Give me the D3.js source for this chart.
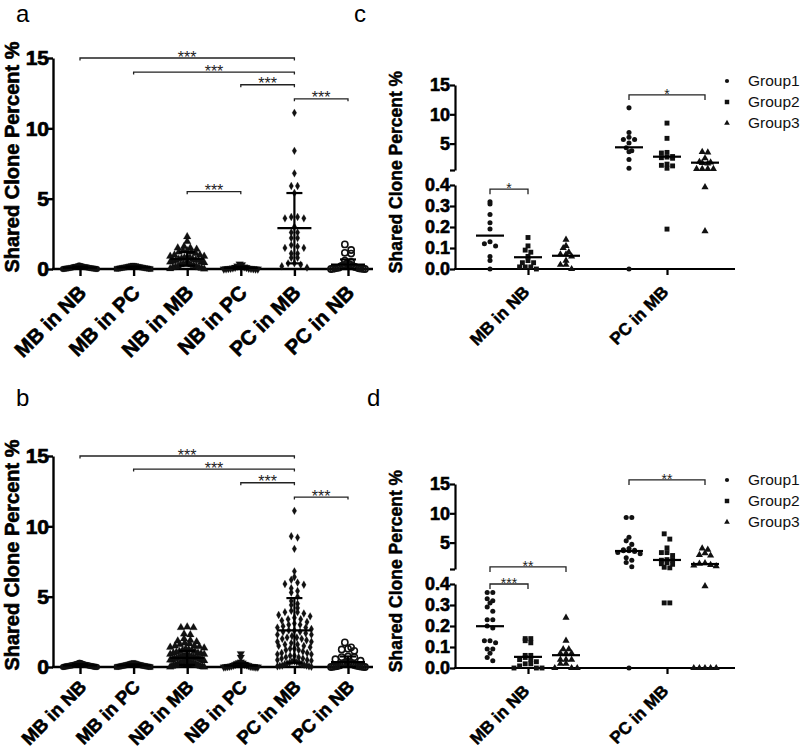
<!DOCTYPE html>
<html><head><meta charset="utf-8">
<script src="https://d3js.org/d3.v7.min.js"></script>
<style>
body{margin:0;background:#fff;}
svg{display:block;}
</style></head><body>
<svg id="chart" width="800" height="753"></svg>
<script>
// ---------------- DATA ----------------
const categoriesAB = ["MB in NB", "MB in PC", "NB in MB", "NB in PC", "PC in MB", "PC in NB"];
const yTicksAB = [0, 5, 10, 15];

// panel a
const aMBinNB = [0.25, 0.22, 0.2, 0.18, 0.16, 0.15, 0.14, 0.12, 0.1, 0.1, 0.08, 0.07, 0.06, 0.05, 0.04, 0.03, 0.02, 0.01, 0.0, 0.0];
const aMBinPC = [0.24, 0.22, 0.21, 0.2, 0.18, 0.16, 0.15, 0.14, 0.12, 0.11, 0.1, 0.09, 0.08, 0.06, 0.05, 0.04, 0.03, 0.02, 0.01, 0.0];
const aNBinMB = [2.3, 1.95, 1.6, 1.5, 1.5, 1.4, 1.3, 1.3, 1.2, 1.2, 1.1, 1.0, 1.0, 0.9, 0.9, 0.85, 0.8, 0.8, 0.75, 0.7, 0.7, 0.65, 0.6, 0.6, 0.55, 0.5, 0.5, 0.45, 0.4, 0.4, 0.35, 0.3, 0.3, 0.25, 0.2, 0.2, 0.15, 0.1, 0.1, 0.05, 0.02, 0.0];
const aNBinPC = [0.35, 0.3, 0.22, 0.15, 0.12, 0.1, 0.08, 0.06, 0.05, 0.04, 0.03, 0.02, 0.01, 0.0, 0.0, 0.0];
const aPCinMB = [11.1, 8.4, 6.8, 5.9, 5.9, 5.4, 3.7, 3.7, 3.6, 3.6, 3.0, 2.6, 2.6, 2.2, 2.2, 1.7, 1.6, 1.5, 1.5, 1.1, 1.1, 0.8, 0.8, 0.4, 0.4, 0.3, 0.2, 0.1];
const aPCinNB = [1.75, 1.35, 1.15, 1.1, 0.6, 0.5, 0.4, 0.35, 0.3, 0.3, 0.25, 0.2, 0.2, 0.15, 0.1, 0.1, 0.08, 0.05, 0.05, 0.03, 0.02, 0.01, 0.0, 0.0];
const meansA = [0.1, 0.11, 0.72, 0.08, 2.9, 0.32];
const sdsA = [0.07, 0.07, 0.48, 0.09, 2.5, 0.36];
const sigA = [
  { from: "MB in NB", to: "PC in MB", level: 15.0, label: "***" },
  { from: "MB in PC", to: "PC in MB", level: 14.0, label: "***" },
  { from: "NB in PC", to: "PC in MB", level: 13.1, label: "***" },
  { from: "PC in MB", to: "PC in NB", level: 12.1, label: "***" },
  { from: "NB in MB", to: "NB in PC", level: 5.5, label: "***" }
];

// panel b
const bMBinNB = [0.3, 0.28, 0.26, 0.25, 0.22, 0.21, 0.2, 0.18, 0.17, 0.16, 0.15, 0.14, 0.13, 0.12, 0.11, 0.1, 0.1, 0.09, 0.08, 0.07, 0.06, 0.05, 0.05, 0.04, 0.03, 0.02, 0.02, 0.01, 0.0, 0.0];
const bMBinPC = [0.28, 0.26, 0.25, 0.24, 0.22, 0.2, 0.19, 0.18, 0.16, 0.15, 0.14, 0.13, 0.12, 0.11, 0.1, 0.09, 0.08, 0.07, 0.06, 0.05, 0.04, 0.03, 0.03, 0.02, 0.01, 0.0, 0.0];
const bNBinMB = [2.85, 2.8, 2.8, 2.35, 2.3, 2.0, 1.9, 1.85, 1.8, 1.7, 1.65, 1.6, 1.5, 1.5, 1.45, 1.4, 1.35, 1.3, 1.25, 1.2, 1.2, 1.1, 1.1, 1.05, 1.0, 1.0, 0.95, 0.9, 0.9, 0.85, 0.8, 0.8, 0.8, 0.75, 0.7, 0.7, 0.7, 0.65, 0.6, 0.6, 0.6, 0.55, 0.5, 0.5, 0.5, 0.45, 0.4, 0.4, 0.4, 0.35, 0.3, 0.3, 0.3, 0.25, 0.2, 0.2, 0.2, 0.15, 0.1, 0.1, 0.1, 0.05, 0.05, 0.02, 0.0, 0.0];
const bNBinPC = [0.95, 0.7, 0.35, 0.3, 0.28, 0.25, 0.2, 0.18, 0.15, 0.12, 0.1, 0.08, 0.06, 0.05, 0.04, 0.03, 0.02, 0.01, 0.0, 0.0, 0.0];
const bPCinMB = [11.1, 9.3, 9.2, 8.4, 6.8, 6.4, 6.2, 6.0, 5.9, 5.85, 5.6, 5.4, 5.3, 5.0, 4.7, 4.5, 4.4, 4.2, 4.0, 3.9, 3.9, 3.8, 3.7, 3.6, 3.5, 3.4, 3.4, 3.3, 3.2, 3.1, 3.0, 3.0, 2.9, 2.8, 2.8, 2.7, 2.6, 2.6, 2.5, 2.5, 2.4, 2.3, 2.3, 2.2, 2.1, 2.1, 2.0, 2.0, 1.9, 1.8, 1.8, 1.7, 1.6, 1.6, 1.5, 1.5, 1.4, 1.3, 1.3, 1.2, 1.2, 1.1, 1.0, 1.0, 0.9, 0.9, 0.8, 0.8, 0.7, 0.7, 0.6, 0.6, 0.5, 0.5, 0.45, 0.4, 0.4, 0.35, 0.3, 0.3, 0.25, 0.2, 0.2, 0.15, 0.1, 0.1, 0.08, 0.05, 0.05, 0.02];
const bPCinNB = [1.75, 1.4, 1.3, 1.25, 1.15, 0.75, 0.7, 0.7, 0.55, 0.45, 0.4, 0.35, 0.3, 0.3, 0.25, 0.2, 0.2, 0.15, 0.12, 0.1, 0.1, 0.08, 0.06, 0.05, 0.04, 0.03, 0.02, 0.01, 0.0, 0.0];
const meansB = [0.12, 0.11, 0.65, 0.1, 2.6, 0.35];
const sdsB = [0.08, 0.08, 0.5, 0.15, 2.3, 0.4];
const sigB = [
  { from: "MB in NB", to: "PC in MB", level: 15.0, label: "***" },
  { from: "MB in PC", to: "PC in MB", level: 14.07, label: "***" },
  { from: "NB in PC", to: "PC in MB", level: 13.1, label: "***" },
  { from: "PC in MB", to: "PC in NB", level: 12.08, label: "***" }
];

// panels c and d
const categoriesCD = ["MB in NB", "PC in MB"];
const groupsCD = ["Group1", "Group2", "Group3"];
const upperTicksCD = [5, 10, 15];
const lowerTicksCD = [0, 0.1, 0.2, 0.3, 0.4];

const cMBinNB_G1 = [0.32, 0.31, 0.26, 0.22, 0.19, 0.13, 0.12, 0.11, 0.06, 0.04, 0.0];
const cMBinNB_G2 = [0.15, 0.11, 0.09, 0.08, 0.06, 0.04, 0.03, 0.03, 0.01, 0.01, 0.01, 0.0];
const cMBinNB_G3 = [0.14, 0.11, 0.10, 0.08, 0.07, 0.07, 0.06, 0.04, 0.02, 0.02, 0.0];
const cPCinMB_G1 = [11.1, 6.9, 6.1, 5.7, 5.7, 5.1, 4.3, 3.8, 3.6, 2.3, 0.8, 0.0];
const cPCinMB_G2 = [8.5, 5.9, 3.5, 3.4, 2.8, 2.7, 2.6, 2.5, 1.5, 1.3, 1.2, 0.8, 0.19];
const cPCinMB_G3 = [3.6, 3.5, 2.5, 1.9, 1.8, 1.7, 1.6, 0.7, 0.7, 0.7, 0.7, 0.39, 0.18];
const mediansC = [[0.159, 0.056, 0.063], [4.37, 2.77, 1.75]];
const sigC = [
  { cat: "MB in NB", g1: 0, g2: 1, level: 0.38, label: "*" },
  { cat: "PC in MB", g1: 0, g2: 2, level: 13.3, label: "*" }
];

const dMBinNB_G1 = [0.36, 0.36, 0.33, 0.32, 0.31, 0.29, 0.27, 0.23, 0.23, 0.2, 0.19, 0.13, 0.13, 0.12, 0.09, 0.09, 0.07, 0.05, 0.035];
const dMBinNB_G2 = [0.14, 0.14, 0.13, 0.12, 0.06, 0.06, 0.05, 0.04, 0.04, 0.03, 0.02, 0.02, 0.01, 0.0, 0.0, 0.0];
const dMBinNB_G3 = [0.24, 0.13, 0.09, 0.09, 0.07, 0.07, 0.07, 0.04, 0.04, 0.04, 0.02, 0.02, 0.0, 0.0, 0.0];
const dPCinMB_G1 = [9.3, 9.3, 5.9, 5.3, 4.7, 4.0, 3.8, 3.7, 3.6, 3.6, 3.5, 3.3, 3.1, 2.4, 2.0, 1.6, 0.9, 0.0];
const dPCinMB_G2 = [6.5, 5.6, 4.1, 3.3, 3.3, 2.8, 2.1, 2.0, 2.0, 1.6, 1.4, 1.3, 0.8, 0.7, 0.31, 0.31];
const dPCinMB_G3 = [4.0, 3.8, 3.2, 2.9, 2.8, 1.5, 1.4, 1.2, 1.1, 1.0, 0.39, 0.0, 0.0, 0.0, 0.0, 0.0];
const mediansD = [[0.199, 0.053, 0.061], [3.57, 2.04, 1.35]];
const sigD = [
  { cat: "MB in NB", g1: 0, g2: 2, level: 0.85, label: "**" },
  { cat: "MB in NB", g1: 0, g2: 1, level: 0.4, label: "***" },
  { cat: "PC in MB", g1: 0, g2: 2, level: 15.7, label: "**" }
];

// ---------------- DRAWING ----------------
const FONT = '"Liberation Sans", Arial, Helvetica, sans-serif';
const svg = d3.select("#chart");

function swarm(values, yPix, cx, d, maxHalf, base) {
  const pts = values.map(v => ({ v, y: yPix(v) }));
  const bins = d3.groups(pts, p => Math.floor((base - p.y) / d + 1e-6));
  const out = [];
  bins.forEach(([, arr]) => {
    arr.sort((a, b) => b.v - a.v);
    const n = arr.length;
    const sp = n > 1 ? Math.min(d, (2 * maxHalf) / (n - 1)) : 0;
    const slots = d3.range(n).map(i => (i - (n - 1) / 2) * sp)
      .sort((a, b) => Math.abs(a) - Math.abs(b) || a - b);
    arr.forEach((p, i) => out.push({ v: p.v, y: p.y, x: cx + slots[i] }));
  });
  return out;
}

function heavy(sel, w) {
  return sel.attr("stroke", "#000").attr("stroke-width", w).attr("paint-order", "stroke");
}

function styleAxis(sel, fs, sw, tw) {
  sel.attr("font-family", FONT).attr("font-size", fs).attr("font-weight", "bold");
  sel.selectAll(".domain").attr("stroke", "#000").attr("stroke-width", sw);
  sel.selectAll(".tick line").attr("stroke", "#000").attr("stroke-width", sw);
  heavy(sel.selectAll(".tick text").attr("fill", "#000"), tw);
}

function drawAB(top, letter, letterY, series, means, sds, sigs, labelSize, labelDy) {
  const g = svg.append("g");
  const y = d3.scaleLinear().domain([0, 15]).range([top + 211, top]);
  const x = d3.scalePoint().domain(categoriesAB).range([80, 348]);
  const y0 = y(0);

  // y axis
  const ya = g.append("g").attr("transform", "translate(53,0)")
    .call(d3.axisLeft(y).tickValues(yTicksAB).tickSize(5).tickSizeOuter(0).tickPadding(-1));
  styleAxis(ya, 21, 2.4, 0.7);

  // x axis
  const xa = g.append("g").attr("transform", `translate(0,${y0})`)
    .call(d3.axisBottom(x).tickSize(7).tickSizeOuter(0));
  styleAxis(xa, labelSize, 2.4, 0.6);
  xa.select(".domain").remove();
  xa.selectAll(".tick text").attr("text-anchor", "end").attr("x", 0).attr("y", 0).attr("dy", 0)
    .attr("transform", `translate(7,${labelDy}) rotate(-45)`);
  g.append("line").attr("x1", 52).attr("x2", 373).attr("y1", y0).attr("y2", y0)
    .attr("stroke", "#000").attr("stroke-width", 2.4);

  // points
  const types = [d3.symbolCircle, d3.symbolSquare, d3.symbolTriangle, d3.symbolTriangle, d3.symbolDiamond, d3.symbolCircle];
  const sizes = [28, 28, 26, 26, 18, 30];
  categoriesAB.forEach((c, i) => {
    const pts = swarm(series[i], y, x(c), 6.3, 17, y0);
    const sym = d3.symbol().type(types[i]).size(sizes[i]);
    g.append("g").selectAll("path").data(pts).join("path")
      .attr("d", sym)
      .attr("transform", p => `translate(${p.x},${p.y})` + (i === 3 ? " rotate(180)" : ""))
      .attr("fill", i === 5 ? "none" : "#111")
      .attr("stroke", "#111")
      .attr("stroke-width", i === 5 ? 1.6 : 0.2);
  });

  // mean +/- SD
  categoriesAB.forEach((c, i) => {
    const cx = x(c), m = means[i], s = sds[i];
    const lo = y(Math.max(0, m - s)), hi = y(m + s);
    const ln = (x1, y1, x2, y2) => g.append("line").attr("x1", x1).attr("y1", y1).attr("x2", x2).attr("y2", y2)
      .attr("stroke", "#000").attr("stroke-width", 2.2);
    ln(cx, lo, cx, hi);
    ln(cx - 8, hi, cx + 8, hi);
    ln(cx - 8, lo, cx + 8, lo);
    ln(cx - 17, y(m), cx + 17, y(m));
  });

  // significance brackets
  sigs.forEach(s => {
    const x1 = x(s.from), x2 = x(s.to), yy = y(s.level);
    g.append("path").attr("d", `M${x1},${yy + 2.5}V${yy}H${x2}V${yy + 2.5}`)
      .attr("fill", "none").attr("stroke", "#222").attr("stroke-width", 1.3);
    g.append("text").attr("x", (x1 + x2) / 2).attr("y", yy + 4.7).attr("text-anchor", "middle")
      .attr("font-family", FONT).attr("font-size", 16).attr("fill", "#222").text(s.label);
  });

  // y title
  heavy(g.append("text").attr("transform", `translate(19,${top + 99}) rotate(-90)`)
    .attr("text-anchor", "middle").attr("font-family", FONT).attr("font-weight", "bold")
    .attr("font-size", 20).attr("fill", "#000").text("Shared Clone Percent %"), 0.6);

  // panel letter
  g.append("text").attr("x", 16).attr("y", letterY).attr("font-family", FONT)
    .attr("font-size", 24).attr("fill", "#000").text(letter);
}

function drawCD(dy, letter, letterX, letterY, series, medians, sigs) {
  const g = svg.append("g");
  const lower = d3.scaleLinear().domain([0, 0.4]).range([269 + dy, 185 + dy]);
  const upper = d3.scaleLinear().domain([0.5, 15]).range([170 + dy, 85 + dy]);
  const yPix = v => (v <= 0.4 ? lower(v) : upper(v));
  const x = d3.scalePoint().domain(categoriesCD).range([528, 667]);
  const gOff = [-38, 0, 38];
  const y0 = lower(0);

  // y axis: two segments
  const yu = g.append("g").attr("transform", "translate(455,0)")
    .call(d3.axisLeft(upper).tickValues([0.5].concat(upperTicksCD)).tickSize(5).tickSizeOuter(0).tickPadding(0)
      .tickFormat(d => (d === 0.5 ? "" : d)));
  styleAxis(yu, 18, 2.2, 0.6);
  const yl = g.append("g").attr("transform", "translate(455,0)")
    .call(d3.axisLeft(lower).tickValues(lowerTicksCD).tickSize(5).tickSizeOuter(0).tickPadding(0)
      .tickFormat(d3.format(".1f")));
  styleAxis(yl, 18, 2.2, 0.6);

  // x axis
  const xa = g.append("g").attr("transform", `translate(0,${y0})`)
    .call(d3.axisBottom(x).tickSize(6).tickSizeOuter(0));
  styleAxis(xa, 17, 2.2, 0.5);
  xa.select(".domain").remove();
  xa.selectAll(".tick text").attr("text-anchor", "end").attr("x", 0).attr("y", 0).attr("dy", 0)
    .attr("transform", "translate(2,24) rotate(-45)");
  g.append("line").attr("x1", 454).attr("x2", 735).attr("y1", y0).attr("y2", y0)
    .attr("stroke", "#000").attr("stroke-width", 2.2);

  const types = [d3.symbolCircle, d3.symbolSquare, d3.symbolTriangle];
  const sizes = [20, 24, 22];
  categoriesCD.forEach((c, ci) => {
    groupsCD.forEach((grp, gi) => {
      const cx = x(c) + gOff[gi];
      const pts = swarm(series[ci][gi], yPix, cx, 5.6, 14, y0);
      const sym = d3.symbol().type(types[gi]).size(sizes[gi]);
      g.append("g").selectAll("path").data(pts).join("path")
        .attr("d", sym).attr("transform", p => `translate(${p.x},${p.y})`)
        .attr("fill", "#111");
      const my = yPix(medians[ci][gi]);
      g.append("line").attr("x1", cx - 14).attr("x2", cx + 14).attr("y1", my).attr("y2", my)
        .attr("stroke", "#000").attr("stroke-width", 2.2);
    });
  });

  // brackets
  sigs.forEach(s => {
    const x1 = x(s.cat) + gOff[s.g1], x2 = x(s.cat) + gOff[s.g2], yy = yPix(s.level);
    g.append("path").attr("d", `M${x1},${yy + 5}V${yy}H${x2}V${yy + 5}`)
      .attr("fill", "none").attr("stroke", "#222").attr("stroke-width", 1.3);
    g.append("text").attr("x", (x1 + x2) / 2).attr("y", yy + 4).attr("text-anchor", "middle")
      .attr("font-family", FONT).attr("font-size", 14).attr("fill", "#222").text(s.label);
  });

  // legend
  const legY = [81, 102, 123].map(v => v + dy);
  const legSizes = [14, 20, 14];
  groupsCD.forEach((grp, gi) => {
    g.append("path").attr("d", d3.symbol().type(types[gi]).size(legSizes[gi]))
      .attr("transform", `translate(727,${legY[gi]})`).attr("fill", "#111");
    g.append("text").attr("x", 748).attr("y", legY[gi]).attr("dy", "0.35em")
      .attr("font-family", FONT).attr("font-size", 15.5).attr("fill", "#111").text(grp);
  });

  // y title
  heavy(g.append("text").attr("transform", `translate(402,${172 + dy}) rotate(-90)`)
    .attr("text-anchor", "middle").attr("font-family", FONT).attr("font-weight", "bold")
    .attr("font-size", 17.5).attr("fill", "#000").text("Shared Clone Percent %"), 0.5);

  g.append("text").attr("x", letterX).attr("y", letterY).attr("font-family", FONT)
    .attr("font-size", 24).attr("fill", "#000").text(letter);
}

drawAB(58, "a", 22, [aMBinNB, aMBinPC, aNBinMB, aNBinPC, aPCinMB, aPCinNB], meansA, sdsA, sigA, 20.5, 25);
drawAB(456, "b", 406, [bMBinNB, bMBinPC, bNBinMB, bNBinPC, bPCinMB, bPCinNB], meansB, sdsB, sigB, 18.5, 21);
drawCD(0, "c", 354, 22,
  [[cMBinNB_G1, cMBinNB_G2, cMBinNB_G3], [cPCinMB_G1, cPCinMB_G2, cPCinMB_G3]], mediansC, sigC);
drawCD(399, "d", 367, 406,
  [[dMBinNB_G1, dMBinNB_G2, dMBinNB_G3], [dPCinMB_G1, dPCinMB_G2, dPCinMB_G3]], mediansD, sigD);
</script></body></html>
